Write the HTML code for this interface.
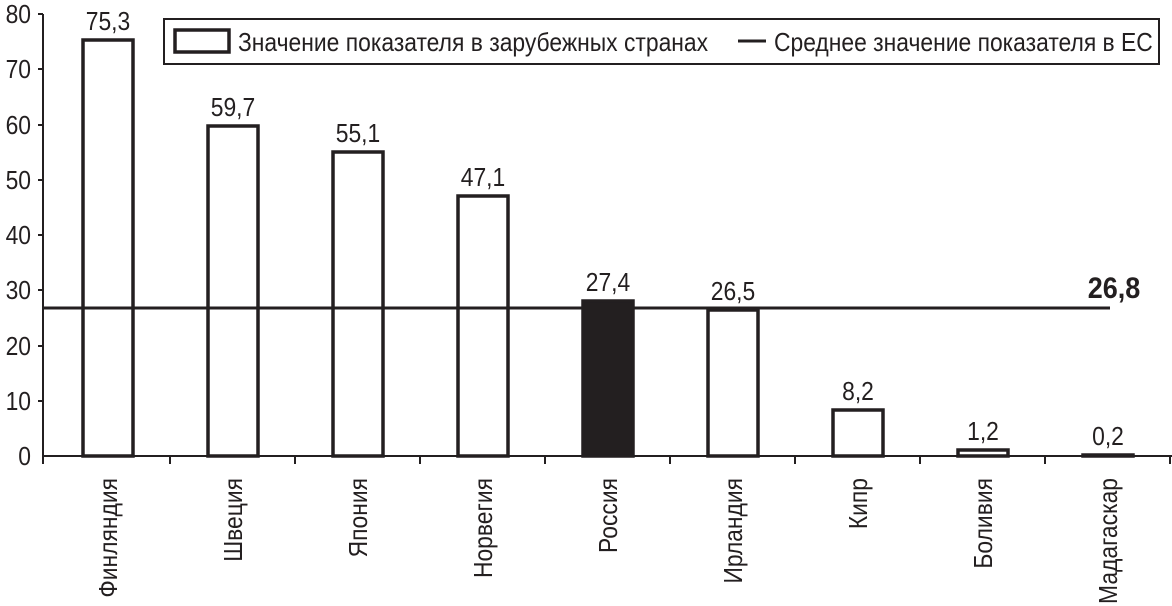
<!DOCTYPE html>
<html><head><meta charset="utf-8"><style>body{margin:0;background:#fff}svg{display:block}</style></head><body>
<svg width="1172" height="606" viewBox="0 0 1172 606" font-family="Liberation Sans, sans-serif" fill="#231f20">
<g stroke="#231f20" stroke-width="2">
<line x1="43" y1="14" x2="43" y2="464"/>
<line x1="43" y1="456" x2="1172" y2="456"/>
<line x1="38" y1="14" x2="43" y2="14"/><line x1="38" y1="69" x2="43" y2="69"/><line x1="38" y1="125" x2="43" y2="125"/><line x1="38" y1="180" x2="43" y2="180"/><line x1="38" y1="235" x2="43" y2="235"/><line x1="38" y1="290" x2="43" y2="290"/><line x1="38" y1="346" x2="43" y2="346"/><line x1="38" y1="401" x2="43" y2="401"/>
<line x1="170" y1="456" x2="170" y2="464"/><line x1="295" y1="456" x2="295" y2="464"/><line x1="420" y1="456" x2="420" y2="464"/><line x1="545" y1="456" x2="545" y2="464"/><line x1="670" y1="456" x2="670" y2="464"/><line x1="795" y1="456" x2="795" y2="464"/><line x1="920" y1="456" x2="920" y2="464"/><line x1="1045" y1="456" x2="1045" y2="464"/><line x1="1170" y1="456" x2="1170" y2="464"/>
</g>
<g font-size="26" text-anchor="end">
<text transform="translate(31,23) scale(0.88,1)">80</text>
<text transform="translate(31,78) scale(0.88,1)">70</text>
<text transform="translate(31,134) scale(0.88,1)">60</text>
<text transform="translate(31,189) scale(0.88,1)">50</text>
<text transform="translate(31,244) scale(0.88,1)">40</text>
<text transform="translate(31,299) scale(0.88,1)">30</text>
<text transform="translate(31,355) scale(0.88,1)">20</text>
<text transform="translate(31,410) scale(0.88,1)">10</text>
<text transform="translate(31,465) scale(0.88,1)">0</text>
</g>
<g fill="#fff" stroke="#231f20" stroke-width="3.5">
<rect x="83" y="40" width="50" height="416"/>
<rect x="208" y="126" width="50" height="330"/>
<rect x="333" y="152" width="50" height="304"/>
<rect x="458" y="196" width="50" height="260"/>
<rect x="583" y="301" width="50" height="155" fill="#231f20"/>
<rect x="708" y="310" width="50" height="146"/>
<rect x="833" y="410" width="50" height="46"/>
<rect x="958" y="450" width="50" height="6"/>
<rect x="1083" y="455" width="50" height="1"/>
</g>
<line x1="43" y1="308" x2="1110" y2="308" stroke="#231f20" stroke-width="3"/>
<text transform="translate(1114,298) scale(0.9,1)" font-size="30" font-weight="bold" text-anchor="middle">26,8</text>
<g font-size="26" text-anchor="middle">
<text transform="translate(108,30) scale(0.88,1)">75,3</text>
<text transform="translate(233,116) scale(0.88,1)">59,7</text>
<text transform="translate(358,142) scale(0.88,1)">55,1</text>
<text transform="translate(483,186) scale(0.88,1)">47,1</text>
<text transform="translate(608,291) scale(0.88,1)">27,4</text>
<text transform="translate(733,300) scale(0.88,1)">26,5</text>
<text transform="translate(858,400) scale(0.88,1)">8,2</text>
<text transform="translate(983,440) scale(0.88,1)">1,2</text>
<text transform="translate(1108,445) scale(0.88,1)">0,2</text>
</g>
<g font-size="26" text-anchor="end">
<text transform="translate(117,478) rotate(-90) scale(0.88,1)">Финляндия</text>
<text transform="translate(242,478) rotate(-90) scale(0.88,1)">Швеция</text>
<text transform="translate(367,478) rotate(-90) scale(0.88,1)">Япония</text>
<text transform="translate(492,478) rotate(-90) scale(0.88,1)">Норвегия</text>
<text transform="translate(617,478) rotate(-90) scale(0.88,1)">Россия</text>
<text transform="translate(742,478) rotate(-90) scale(0.88,1)">Ирландия</text>
<text transform="translate(867,478) rotate(-90) scale(0.88,1)">Кипр</text>
<text transform="translate(992,478) rotate(-90) scale(0.88,1)">Боливия</text>
<text transform="translate(1117,478) rotate(-90) scale(0.88,1)">Мадагаскар</text>
</g>
<rect x="164" y="19" width="995" height="45" fill="#fff" stroke="#231f20" stroke-width="2"/>
<rect x="175" y="30" width="54" height="22" fill="#fff" stroke="#231f20" stroke-width="3.5"/>
<text transform="translate(238,51) scale(0.88,1)" font-size="26">Значение показателя в зарубежных странах</text>
<line x1="738" y1="41" x2="766" y2="41" stroke="#231f20" stroke-width="3"/>
<text transform="translate(774,51) scale(0.88,1)" font-size="26">Среднее значение показателя в ЕС</text>
</svg>
</body></html>
